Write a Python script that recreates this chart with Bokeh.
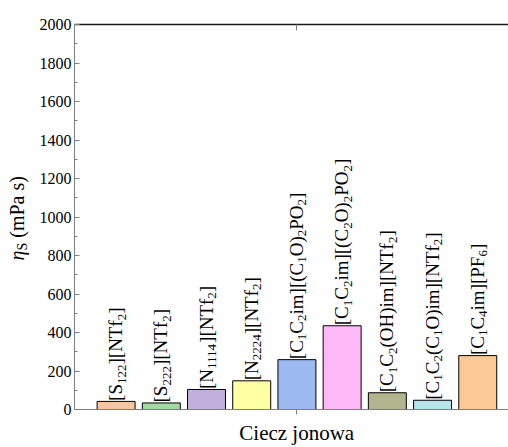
import re
from math import pi

from bokeh.core.properties import value
from bokeh.embed import file_html
from bokeh.layouts import row
from bokeh.models import (ColumnDataSource, CustomJSTickFormatter, FixedTicker,
                          Label, LinearAxis, Range1d)
from bokeh.plotting import figure
from bokeh.resources import INLINE

# Ionic liquids (subscripts written as _{..}) and their viscosity in mPa s
liquids = [
    "[S_{122}][NTf_{2}]",
    "[S_{222}][NTf_{2}]",
    "[N_{1114}][NTf_{2}]",
    "[N_{2224}][NTf_{2}]",
    "[C_{1}C_{2}im][(C_{1}O)_{2}PO_{2}]",
    "[C_{1}C_{2}im][(C_{2}O)_{2}PO_{2}]",
    "[C_{1}C_{2}(OH)im][NTf_{2}]",
    "[C_{1}C_{2}(C_{1}O)im][NTf_{2}]",
    "[C_{1}C_{4}im][PF_{6}]",
]
viscosity = [42, 34, 104, 149, 259, 435, 87, 48, 280]
bar_colors = ["#FAC49C", "#A3D9A3", "#C3AFDB", "#FFFFA3", "#9DB9F2",
              "#FFB9F8", "#B1B68E", "#B6E4EA", "#FCC896"]
y_ticks = list(range(0, 2001, 200))
y_minor = list(range(100, 2000, 200))
x_title = "\u00a0\u00a0Ciecz jonowa"
y_title = "*η*_{S} (mPa s)"

FONT = "Liberation Serif"
MAIN_PX = 19.0
SUB_PX = 13.0
MAIN_SHIFT = -0.5   # centre line of normal runs relative to the bar centre
SUB_SHIFT = 6.0     # extra shift of subscript runs towards the baseline side
GAP = 0.5

# Times advance widths (per 1000 em) used to lay out subscript runs
TIMES = {" ": 250, "(": 333, ")": 333, "[": 333, "]": 333,
         "C": 667, "F": 556, "H": 722, "N": 722, "O": 722, "P": 556,
         "S": 556, "T": 611, "a": 444, "f": 333, "i": 278, "m": 778,
         "s": 389, "η": 500}


def advance(text, size):
    return sum(TIMES.get(ch, 500) for ch in text) * size / 1000.0


def split_markup(label):
    """Split '_{..}' subscripts and '*..*' italics into (text, sub, italic) runs."""
    runs = []
    for part in re.split(r"(_\{[^}]*\}|\*[^*]*\*)", label):
        if part.startswith("_{"):
            runs.append((part[2:-1], True, False))
        elif part.startswith("*"):
            runs.append((part[1:-1], False, True))
        elif part:
            runs.append((part, False, False))
    return runs


def layout_runs(label, main_px, sub_px):
    """Return (text, size, sub, italic, start) with start measured along the text."""
    pos = 0.0
    out = []
    for text, sub, italic in split_markup(label):
        size = sub_px if sub else main_px
        lead = len(text) - len(text.lstrip(" "))
        pos += advance(text[:lead], size)
        body = text[lead:]
        out.append((body, size, sub, italic, pos))
        pos += advance(body, size)
    return out


xs = list(range(1, len(liquids) + 1))
mid = (len(liquids) + 1) / 2
H = 447
TITLE_W = 36
FRAME_BOTTOM = 411   # canvas row of the value axis zero line

# ---- narrow strip carrying the vertical y-axis title ----
ttl = figure(width=TITLE_W, height=H, output_backend="svg", toolbar_location=None,
             x_range=Range1d(0, 1), y_range=Range1d(0, 1),
             x_axis_type=None, y_axis_type=None, min_border=0)
ttl.outline_line_color = None
ttl.grid.visible = False
ttl.background_fill_color = "white"
ttl.border_fill_color = "white"

TITLE_PX, TITLE_SUB = 20.0, 14.0
t_mid, t_start = 16.0, FRAME_BOTTOM - 262.0
for text, size, sub, italic, start in layout_runs(y_title, TITLE_PX, TITLE_SUB):
    ttl.add_layout(Label(x=t_mid + (6.0 if sub else 0.0), y=t_start + start,
                         x_units="screen", y_units="screen", text=text,
                         angle=pi / 2, text_font=FONT,
                         text_font_style="italic" if italic else "normal",
                         text_font_size=f"{size}px", text_align="left",
                         text_baseline="middle", text_color="black"))

# ---- main bar chart ----
p = figure(width=508 - TITLE_W, height=H, output_backend="svg", toolbar_location=None,
           x_range=Range1d(0.08, 9.68), y_range=Range1d(0, 2000),
           min_border_left=73 - TITLE_W, min_border_right=0,
           min_border_top=24, min_border_bottom=H - FRAME_BOTTOM)
p.outline_line_color = None
p.grid.visible = False
p.background_fill_color = "white"
p.border_fill_color = "white"

bars = ColumnDataSource(dict(x=xs, top=viscosity, color=bar_colors))
p.vbar(x="x", top="top", bottom=0, width=0.84, fill_color="color",
       line_color="black", line_width=1, source=bars)

# Vertical labels above each bar, built run by run so subscripts can shrink
lx, ly, lt, ldx, ldy, lsz = [], [], [], [], [], []
for x, v, label in zip(xs, viscosity, liquids):
    for text, size, sub, italic, start in layout_runs(label, MAIN_PX, SUB_PX):
        lx.append(x)
        ly.append(v)
        lt.append(text)
        ldx.append(MAIN_SHIFT + (SUB_SHIFT if sub else 0.0))
        ldy.append(-(GAP + start))
        lsz.append(f"{size}px")

labels = ColumnDataSource(dict(x=lx, y=ly, text=lt, dx=ldx, dy=ldy, size=lsz))
p.text(x="x", y="y", text="text", x_offset="dx", y_offset="dy",
       text_font_size="size", angle=pi / 2, text_font=value(FONT),
       text_align="left", text_baseline="middle", text_color="black",
       source=labels)

AX_GRAY = "#7f7f7f"
blank = CustomJSTickFormatter(code="return ''")

yax = p.yaxis[0]
yax.ticker = FixedTicker(ticks=y_ticks, minor_ticks=y_minor)
yax.axis_line_color = AX_GRAY
yax.major_tick_line_color = AX_GRAY
yax.minor_tick_line_color = AX_GRAY
yax.major_tick_in = 5
yax.major_tick_out = 0
yax.minor_tick_in = 3
yax.minor_tick_out = 0
yax.major_label_text_font = FONT
yax.major_label_text_font_size = "16px"
yax.major_label_text_color = "black"
yax.major_label_standoff = 3

xax = p.xaxis[0]
xax.ticker = FixedTicker(ticks=[mid], minor_ticks=[])
xax.formatter = blank
xax.axis_line_color = AX_GRAY
xax.major_tick_line_color = AX_GRAY
xax.major_tick_in = 0
xax.major_tick_out = 5
xax.major_label_standoff = 0
xax.axis_label = x_title
xax.axis_label_text_font = FONT
xax.axis_label_text_font_style = "normal"
xax.axis_label_text_font_size = "21px"
xax.axis_label_text_color = "black"
xax.axis_label_standoff = 6

top = LinearAxis(ticker=FixedTicker(ticks=[mid], minor_ticks=[]), formatter=blank,
                 axis_line_color="#1a1a1a", axis_line_width=1.5,
                 major_tick_line_color=AX_GRAY, major_tick_in=6, major_tick_out=0,
                 minor_tick_line_color=None, major_label_standoff=0)
p.add_layout(top, "above")

layout = row(ttl, p)
open("out.html", "w").write(file_html(layout, INLINE))
